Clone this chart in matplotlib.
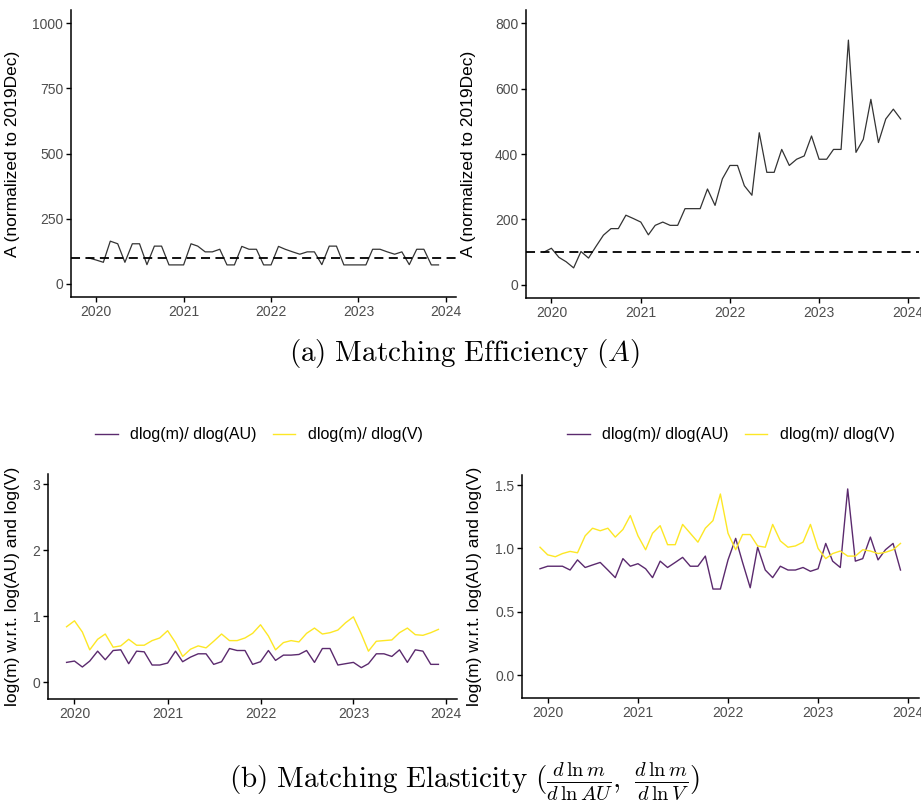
import numpy as np
import pandas as pd
import matplotlib
matplotlib.use("Agg")
import matplotlib.pyplot as plt
import matplotlib.dates as mdates

plt.rcParams['font.family'] = ['Liberation Sans', 'DejaVu Sans']
plt.rcParams['mathtext.fontset'] = 'cm'

# monthly, Dec 2019 .. Dec 2023
months = pd.date_range("2019-12-01", periods=49, freq="MS")

# matching efficiency A, normalised to 2019Dec = 100
A_left = [100, 92, 83, 164, 154, 83, 154, 154, 74, 145, 145, 73, 73,
          73, 154, 145, 123, 123, 133, 73, 73, 144, 133, 133, 73,
          73, 144, 133, 123, 114, 123, 123, 74, 145, 145, 73, 73,
          73, 73, 133, 133, 123, 114, 123, 74, 133, 133, 73, 73]
A_right = [100, 112, 84, 71, 52, 102, 82, 117, 152, 172, 172, 213, 203,
           192, 153, 182, 192, 182, 182, 233, 233, 233, 293, 243, 324,
           365, 365, 303, 274, 465, 344, 344, 414, 365, 384, 394, 455,
           384, 384, 414, 414, 748, 405, 445, 567, 435, 507, 537, 507]

# elasticities
el_au_left = [0.30, 0.32, 0.23, 0.32, 0.47, 0.34, 0.48, 0.49, 0.28, 0.47, 0.46, 0.26, 0.26,
              0.29, 0.47, 0.31, 0.38, 0.43, 0.43, 0.27, 0.31, 0.51, 0.48, 0.48, 0.27,
              0.31, 0.48, 0.33, 0.41, 0.41, 0.42, 0.48, 0.30, 0.51, 0.51, 0.26, 0.28,
              0.30, 0.22, 0.28, 0.43, 0.43, 0.39, 0.49, 0.30, 0.49, 0.47, 0.27, 0.27]
el_v_left = [0.84, 0.93, 0.76, 0.49, 0.65, 0.73, 0.53, 0.55, 0.65, 0.56, 0.56, 0.63, 0.67,
             0.78, 0.60, 0.39, 0.50, 0.55, 0.52, 0.62, 0.73, 0.63, 0.63, 0.67, 0.74,
             0.87, 0.70, 0.49, 0.60, 0.63, 0.61, 0.74, 0.82, 0.73, 0.75, 0.79, 0.90,
             0.99, 0.73, 0.47, 0.62, 0.63, 0.64, 0.75, 0.82, 0.72, 0.71, 0.75, 0.80]
el_au_right = [0.84, 0.86, 0.86, 0.86, 0.83, 0.91, 0.85, 0.87, 0.89, 0.83, 0.77, 0.92, 0.86,
               0.88, 0.84, 0.77, 0.90, 0.85, 0.89, 0.93, 0.86, 0.86, 0.94, 0.68, 0.68,
               0.91, 1.08, 0.89, 0.69, 1.01, 0.83, 0.77, 0.86, 0.83, 0.83, 0.85, 0.82,
               0.84, 1.04, 0.90, 0.85, 1.47, 0.90, 0.92, 1.09, 0.91, 0.99, 1.04, 0.83]
el_v_right = [1.01, 0.95, 0.935, 0.96, 0.977, 0.966, 1.10, 1.16, 1.14, 1.16, 1.09, 1.15, 1.26,
              1.10, 0.99, 1.12, 1.18, 1.03, 1.03, 1.19, 1.12, 1.05, 1.16, 1.22, 1.43,
              1.12, 0.99, 1.11, 1.11, 1.02, 1.01, 1.19, 1.06, 1.01, 1.02, 1.05, 1.19,
              1.00, 0.92, 0.96, 0.98, 0.94, 0.94, 0.99, 0.98, 0.96, 0.97, 0.99, 1.04]

purple = "#5b2a6e"
yellow = "#fde725"
grey = "#4d4d4d"

W, H = 921, 802
fig = plt.figure(figsize=(W / 100, H / 100), dpi=100)


def box(l, t, r, b):
    return [l / W, 1 - b / H, (r - l) / W, (b - t) / H]


pad = pd.Timedelta(days=73)
xmin, xmax = months[0] - pad, months[-1] + pad
years = pd.to_datetime(["2020-01-01", "2021-01-01", "2022-01-01", "2023-01-01", "2024-01-01"])


def style(ax, yticks, ylim, fmt, ylab, lab_px, left_px, width_px):
    for s in ["top", "right"]:
        ax.spines[s].set_visible(False)
    for s in ["left", "bottom"]:
        ax.spines[s].set_linewidth(1.1)
    ax.set_xlim(xmin, xmax)
    ax.set_xticks(years)
    ax.xaxis.set_major_formatter(mdates.DateFormatter("%Y"))
    ax.set_yticks(yticks)
    ax.set_yticklabels([fmt.format(v) for v in yticks])
    ax.set_ylim(*ylim)
    ax.tick_params(length=3.5, width=1, colors="black", labelcolor=grey, labelsize=10, pad=2)
    ax.set_ylabel(ylab, fontsize=12.5)
    ax.yaxis.set_label_coords((lab_px - left_px) / width_px, 0.5)


ax1 = fig.add_axes(box(71, 10, 456, 297))
ax1.plot(months, A_left, color="#333333", lw=0.9)
ax1.axhline(100, color="black", lw=1.3, ls=(0, (5, 3)))
style(ax1, [0, 250, 500, 750, 1000], (-50, 1050), "{:d}", "A (normalized to 2019Dec)", 20, 71, 385)

ax2 = fig.add_axes(box(526, 10, 918.5, 298))
ax2.plot(months, A_right, color="#333333", lw=0.9)
ax2.axhline(100, color="black", lw=1.3, ls=(0, (5, 3)))
style(ax2, [0, 200, 400, 600, 800], (-40, 840), "{:d}", "A (normalized to 2019Dec)", 476, 526, 392.5)

ax3 = fig.add_axes(box(48, 474, 457, 699))
ax3.plot(months, el_au_left, color=purple, lw=1.0, label="dlog(m)/ dlog(AU)")
ax3.plot(months, el_v_left, color=yellow, lw=1.0, label="dlog(m)/ dlog(V)")
style(ax3, [0, 1, 2, 3], (-0.255, 3.155), "{:d}", "log(m) w.r.t. log(AU) and log(V)", 20, 48, 409)

ax4 = fig.add_axes(box(522, 475, 918.5, 698))
ax4.plot(months, el_au_right, color=purple, lw=1.0, label="dlog(m)/ dlog(AU)")
ax4.plot(months, el_v_right, color=yellow, lw=1.0, label="dlog(m)/ dlog(V)")
style(ax4, [0.0, 0.5, 1.0, 1.5], (-0.18, 1.58), "{:.1f}", "log(m) w.r.t. log(AU) and log(V)", 482, 522, 396.5)

for ax, cx in [(ax3, 259), (ax4, 731)]:
    ax.legend(loc="center", bbox_to_anchor=(cx / W, 1 - 435 / H), bbox_transform=fig.transFigure,
              ncol=2, frameon=False, fontsize=11.5, handlelength=1.4, handletextpad=0.8,
              columnspacing=1.0)

fig.text(465 / W, 1 - 354 / H, r"$\mathrm{(a)\ Matching\ Efficiency\ (}A\mathrm{)}$",
         ha="center", va="center", fontsize=21)
fig.text(465 / W, 1 - 781 / H,
         r"$\mathrm{(b)\ Matching\ Elasticity\ (}\frac{d\,\ln m}{d\,\ln AU},\ \frac{d\,\ln m}{d\,\ln V}\mathrm{)}$",
         ha="center", va="center", fontsize=21)

fig.savefig("out.png", dpi=100)
